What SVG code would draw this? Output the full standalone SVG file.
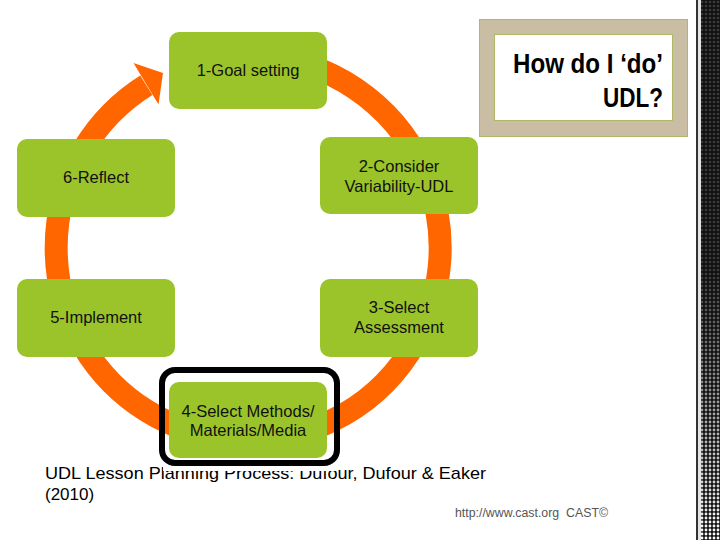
<svg xmlns="http://www.w3.org/2000/svg" width="720" height="540" viewBox="0 0 720 540">
  <style>
    .box { fill: #9BC42A; }
    .lbl { font-family: "Liberation Sans", Arial, sans-serif; font-size: 16.5px; fill: #111; text-anchor: middle; }
    .ring { fill: none; stroke: #FF6600; stroke-width: 23; }
    .title { font-family: "Liberation Sans", Arial, sans-serif; font-weight: bold; font-size: 28px; fill: #000; text-anchor: end; }
    .cap { font-family: "Liberation Sans", Arial, sans-serif; font-size: 17px; fill: #000; }
    .url { font-family: "Liberation Sans", Arial, sans-serif; font-size: 12px; fill: #555; }
  </style>
  <defs>
    <pattern id="dotsDark" width="4" height="4" patternUnits="userSpaceOnUse">
      <circle cx="2" cy="2" r="1.3" fill="#3c3c3c"/>
    </pattern>
    <pattern id="dotsLight" width="4" height="4" patternUnits="userSpaceOnUse">
      <circle cx="2" cy="2" r="1.4" fill="#ffffff"/>
    </pattern>
    <linearGradient id="fade" x1="0" y1="0" x2="0" y2="1">
      <stop offset="0" stop-color="#000"/>
      <stop offset="0.5" stop-color="#000"/>
      <stop offset="1" stop-color="#fff"/>
    </linearGradient>
    <mask id="fadeMask" maskUnits="userSpaceOnUse" x="696" y="0" width="24" height="540">
      <rect x="696" y="0" width="24" height="540" fill="url(#fade)"/>
    </mask>
  </defs>

  <rect width="720" height="540" fill="#fff"/>

  <!-- right decorative strip -->
  <g id="strip">
    <rect x="696" y="0" width="2" height="540" fill="#333"/>
    <rect x="698" y="0" width="3" height="540" fill="#e4e4e4"/>
    <rect x="701" y="0" width="19" height="540" fill="#111"/>
    <rect x="701" y="0" width="19" height="540" fill="url(#dotsDark)"/>
    <rect x="701" y="0" width="19" height="540" fill="url(#dotsLight)" mask="url(#fadeMask)"/>
  </g>

  <!-- connectors: cycle ring with arrowhead -->
  <g id="connectors">
    <path class="ring" d="M182.3,67.6 A192,192 0 1 1 146.3,85.2"/>
    <polygon points="133.5,63 158.5,104.5 163,73" fill="#FF6600"/>
  </g>

  <!-- title -->
  <g id="title">
    <rect x="479.5" y="19.5" width="208" height="117" fill="#C9BEA3" stroke="#AEB865" stroke-width="1"/>
    <rect x="494.5" y="34.5" width="178" height="86" fill="#fff" stroke="#AEB865" stroke-width="1"/>
    <text class="title" x="663" y="73" textLength="150" lengthAdjust="spacingAndGlyphs">How do I ‘do’</text>
    <text class="title" x="663" y="107" textLength="60" lengthAdjust="spacingAndGlyphs">UDL?</text>
  </g>

  <g id="n1">
    <rect class="box" x="169" y="32" width="158" height="77" rx="10"/>
    <text class="lbl" x="248" y="76">1-Goal setting</text>
  </g>
  <g id="n2">
    <rect class="box" x="320" y="137" width="158" height="77" rx="10"/>
    <text class="lbl" x="399" y="172">2-Consider</text>
    <text class="lbl" x="399" y="192">Variability-UDL</text>
  </g>
  <g id="n3">
    <rect class="box" x="320" y="279" width="158" height="78" rx="10"/>
    <text class="lbl" x="399" y="313">3-Select</text>
    <text class="lbl" x="399" y="333">Assessment</text>
  </g>
  <g id="n5">
    <rect class="box" x="17" y="279" width="158" height="78" rx="10"/>
    <text class="lbl" x="96" y="323">5-Implement</text>
  </g>
  <g id="n6">
    <rect class="box" x="17" y="139" width="158" height="78" rx="10"/>
    <text class="lbl" x="96" y="183">6-Reflect</text>
  </g>

  <!-- caption -->
  <g id="caption">
    <text class="cap" x="45" y="479" textLength="441" lengthAdjust="spacingAndGlyphs">UDL Lesson Planning Process: Dufour, Dufour &amp; Eaker</text>
    <text class="cap" x="45" y="500">(2010)</text>
    <text class="url" x="455" y="517" textLength="153" lengthAdjust="spacingAndGlyphs" xml:space="preserve">http://www.cast.org  CAST©</text>
  </g>

  <g id="n4">
    <rect x="163" y="462" width="175" height="9" fill="#fff"/>
    <rect x="162" y="370" width="175" height="93" rx="13" fill="none" stroke="#000" stroke-width="6"/>
    <rect class="box" x="169" y="382" width="158" height="76" rx="10"/>
    <text class="lbl" x="248" y="417">4-Select Methods/</text>
    <text class="lbl" x="248" y="436">Materials/Media</text>
  </g>
</svg>
